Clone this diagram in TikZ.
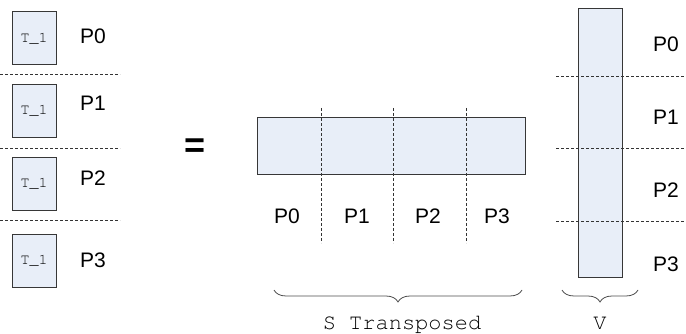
\documentclass[tikz,border=0pt]{standalone}
\usepackage{fontspec}
\setmainfont{Liberation Sans}
\newfontfamily\monofont{texgyrecursor-regular.otf}
\usetikzlibrary{positioning}
\usetikzlibrary{decorations.pathreplacing}
\definecolor{blockfill}{RGB}{232,238,248}
\definecolor{blockline}{RGB}{55,55,55}

\begin{document}
\begin{tikzpicture}[x=1pt,y=-1pt]
	\tikzset{block/.style = {shape=rectangle, draw=blockline, fill=blockfill,
			line width=1pt, inner sep=0pt}}
	\tikzset{tile/.style = {block, minimum width=44pt, minimum height=53pt,
			font=\monofont\fontsize{15}{15}\selectfont, text=black}}
	\tikzset{part/.style = {anchor=base, font=\fontsize{21}{21}\selectfont}}
	\tikzset{sep/.style = {dash pattern=on 3pt off 2pt, line width=0.6pt, black!80}}
	\tikzset{under/.style = {decorate, decoration={brace, mirror, amplitude=12pt},
			line width=0.8pt, black!70}}
	\tikzset{caption/.style = {anchor=base, font=\monofont\fontsize{22}{22}\selectfont}}
	
	\useasboundingbox (0,0) rectangle (686,334);
	
	% local tiles
	\node[tile] (t0) at (34,38.5) {T\_1};
	\node[tile] (t1) at (34,111) {T\_1};
	\node[tile] (t2) at (34,184) {T\_1};
	\node[tile] (t3) at (34,261) {T\_1};
	
	\node[part] (l0) at (93,43.5) {P0};
	\node[part] (l1) at (93,110.5) {P1};
	\node[part] (l2) at (93,185.5) {P2};
	\node[part] (l3) at (93,267.5) {P3};
	
	\node[font=\bfseries\fontsize{36}{36}\selectfont] (eq) at (195,148) {=};
	
	% S transposed and V
	\node[block, minimum width=268pt, minimum height=57pt] (st) at (391,146.5) {};
	\node[block, minimum width=44pt, minimum height=268pt] (v) at (600,143) {};
	
	\node[part] (m0) at (287,224) {P0};
	\node[part] (m1) at (357,224) {P1};
	\node[part] (m2) at (428,224) {P2};
	\node[part] (m3) at (497,224) {P3};
	
	\node[part] (r0) at (666,51.5) {P0};
	\node[part] (r1) at (666,124.5) {P1};
	\node[part] (r2) at (666,197.5) {P2};
	\node[part] (r3) at (666,271.5) {P3};
	
	% separators
	\draw[sep] (0,74) -- (120,74);
	\draw[sep] (0,148) -- (120,148);
	\draw[sep] (0,220) -- (120,220);
	
	\draw[sep] (321,108) -- (321,243);
	\draw[sep] (393,108) -- (393,243);
	\draw[sep] (466,108) -- (466,243);
	
	\draw[sep] (556,76) -- (686,76);
	\draw[sep] (556,148) -- (686,148);
	\draw[sep] (556,221) -- (686,221);
	
	% braces
	\coordinate (sl) at (274,290);
	\coordinate (sr) at (522,290);
	\coordinate (vl) at (562,290);
	\coordinate (vr) at (638,290);
	\draw[under] (sl) -- (sr);
	\draw[under] (vl) -- (vr);
	
	\node[caption] (scap) at (402,329) {S Transposed};
	\node[caption] (vcap) at (600,329) {V};
	
\end{tikzpicture}
\end{document}
